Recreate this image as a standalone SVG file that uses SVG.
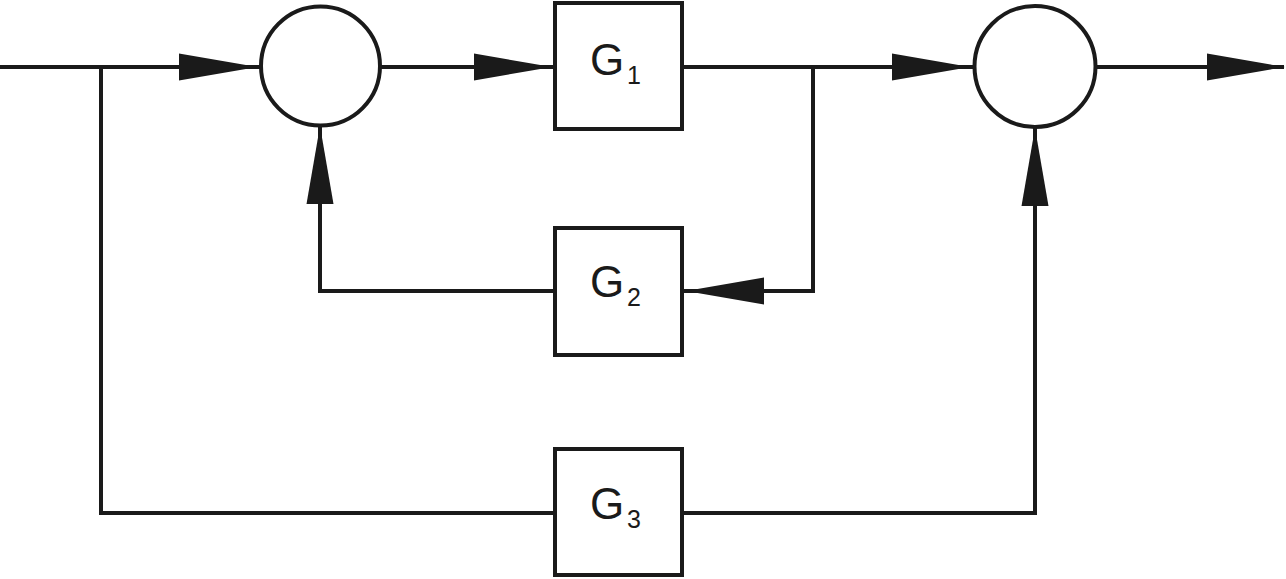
<svg xmlns="http://www.w3.org/2000/svg" width="1286" height="579" viewBox="0 0 1286 579">
  <style>
    .ln { fill: none; stroke: #1a1a1a; stroke-width: 4; stroke-linejoin: miter; stroke-linecap: square; }
    .blk { fill: #ffffff; stroke: #1a1a1a; stroke-width: 4; }
    .ah { fill: #1a1a1a; stroke: none; }
    .lbl { font-family: "Liberation Sans", Arial, sans-serif; fill: #1a1a1a; }
    .g { font-size: 44px; }
    .sub { font-size: 25px; }
  </style>
  <defs>
    <!-- arrowhead pointing right, tip at origin -->
    <polygon id="arr" points="0,0 -78,-13.5 -78,13.5"/>
  </defs>

  <rect width="1286" height="579" fill="#ffffff"/>

  <g id="connectors">
    <path class="ln" d="M0,67 H258"/>
    <path class="ln" d="M101,67 V513 H553"/>
    <path class="ln" d="M381,67 H553"/>
    <path class="ln" d="M684,67 H971"/>
    <path class="ln" d="M813,67 V291 H684"/>
    <path class="ln" d="M553,291 H320 V127"/>
    <path class="ln" d="M684,513 H1035 V128"/>
    <path class="ln" d="M1097,67 H1282"/>
    <use href="#arr" class="ah" transform="translate(257,67)"/>
    <use href="#arr" class="ah" transform="translate(552,67)"/>
    <use href="#arr" class="ah" transform="translate(970,67)"/>
    <use href="#arr" class="ah" transform="translate(686,291) rotate(180)"/>
    <use href="#arr" class="ah" transform="translate(320,126) rotate(-90)"/>
    <use href="#arr" class="ah" transform="translate(1035,128) rotate(-90)"/>
    <use href="#arr" class="ah" transform="translate(1285,67)"/>
  </g>

  <g id="sum1">
    <circle class="blk" cx="320.5" cy="66" r="59.5"/>
  </g>
  <g id="sum2">
    <circle class="blk" cx="1035" cy="66.5" r="60.5"/>
  </g>

  <g id="G1">
    <rect class="blk" x="555" y="3" width="127" height="126"/>
    <text class="lbl" x="590" y="75"><tspan class="g">G</tspan><tspan class="sub" x="627" y="84">1</tspan></text>
  </g>
  <g id="G2">
    <rect class="blk" x="555" y="228" width="127" height="127"/>
    <text class="lbl" x="590" y="297"><tspan class="g">G</tspan><tspan class="sub" x="627" y="306">2</tspan></text>
  </g>
  <g id="G3">
    <rect class="blk" x="555" y="449" width="127" height="126"/>
    <text class="lbl" x="590" y="519"><tspan class="g">G</tspan><tspan class="sub" x="627" y="528">3</tspan></text>
  </g>
</svg>
